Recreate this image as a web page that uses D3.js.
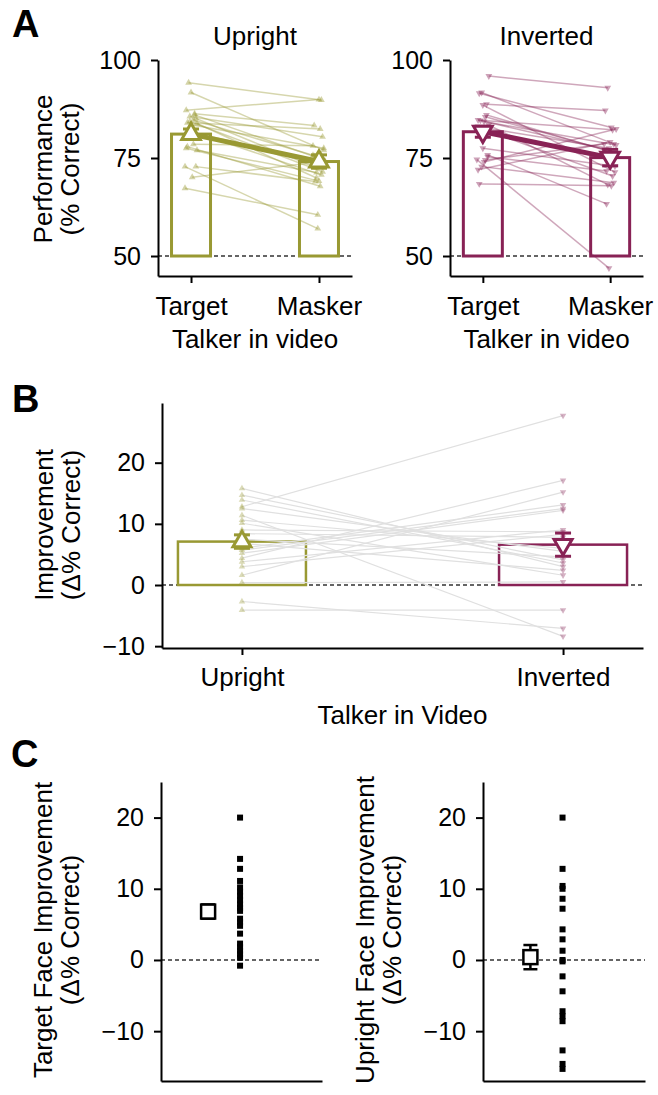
<!DOCTYPE html>
<html><head><meta charset="utf-8">
<script src="https://cdn.jsdelivr.net/npm/d3@7"></script>
<style>
body{margin:0;background:#fff}
svg{display:block}
text{font-family:'Liberation Sans',Arial,Helvetica,sans-serif;fill:#000}
</style>
</head><body>
<svg id="chart" width="658" height="1095"></svg>
<script>
// ---------------- DATA ----------------
const talkerConditions = ["Target", "Masker"];
const faceConditions = ["Upright", "Inverted"];
const ticksA = [50, 75, 100];
const ticksBC = [-10, 0, 10, 20];

// Panel A – Upright (per subject, % correct)
const uprightTarget = [72.8, 91.7, 83.8, 84.3, 85.1, 82.1, 86.0, 77.9, 84.7, 77.5, 81.5, 67.3, 83.5, 77.0, 85.6, 72.8, 94.2, 86.3, 84.0, 78.5, 87.2, 70.1];
const uprightMasker = [57.0, 77.0, 69.9, 71.5, 72.6, 70.7, 75.4, 67.8, 75.7, 69.1, 74.0, 60.5, 77.5, 71.3, 80.4, 69.0, 89.8, 83.3, 82.4, 78.1, 89.9, 74.2];
const uprightMeans = [81.1, 74.1];
const uprightSEM = [1.3, 1.7];

// Panel A – Inverted
const invertedTarget = [74.6, 88.5, 83.4, 91.7, 75.8, 82.6, 86.0, 91.5, 85.5, 84.7, 84.3, 83.0, 77.5, 95.9, 72.8, 75.3, 84.6, 88.7, 68.4, 74.5, 72.0, 74.0];
const invertedMasker = [46.9, 71.4, 68.2, 78.6, 63.3, 70.4, 77.0, 82.8, 77.2, 76.9, 78.3, 77.5, 72.9, 92.9, 68.7, 71.7, 82.2, 87.1, 67.9, 78.6, 79.1, 82.4];
const invertedMeans = [81.7, 75.1];
const invertedSEM = [1.4, 2.1];

// Panel B – improvement (Δ% correct), paired per subject
const improvementUpright = [12.8, 11.4, 15.8, 14.7, 13.9, 10.1, 12.5, 10.6, 9.0, 8.4, 7.5, 6.8, 6.0, 5.7, 5.2, 4.4, 3.8, 3.0, 1.6, 0.4, -2.7, -4.1];
const improvementInverted = [27.7, -8.4, 3.0, 4.1, 3.6, 1.6, 5.5, 6.0, 8.7, 7.8, 4.6, 2.4, 13.1, 12.5, 12.2, 17.1, 9.0, 8.3, 15.2, 0.5, -7.1, -4.1];
const improvementMeans = [7.1, 6.6];
const improvementSEM = [1.1, 1.9];

// Panel C
const targetFaceImprovement = [20.0, 14.2, 12.8, 11.1, 10.2, 9.6, 9.0, 8.4, 7.8, 7.3, 6.9, 5.8, 5.3, 4.8, 3.7, 2.3, 1.8, 1.3, 0.8, 0.3, -0.8];
const targetFaceMean = 6.8, targetFaceSEM = 1.0;
const uprightFaceImprovement = [20.0, 12.8, 10.4, 10.0, 8.6, 7.2, 4.3, 2.9, 1.3, 0.0, -0.2, -2.3, -4.4, -7.2, -7.9, -8.6, -12.7, -14.6, -15.3];
const uprightFaceMean = 0.4, uprightFaceSEM = 1.7;

// ---------------- STYLE ----------------
const OLIVE = "#999933", WINE = "#882255";
const svg = d3.select("#chart");
const TICK_FS = 25, LABEL_FS = 26;

function styleAxis(g) {
  g.select(".domain").attr("stroke", "#000").attr("stroke-width", 2);
  g.selectAll(".tick line").attr("stroke", "#000").attr("stroke-width", 2);
  g.selectAll(".tick text").attr("font-size", TICK_FS).attr("fill", "#000")
    .attr("font-family", "'Liberation Sans',Arial,sans-serif");
}
function yAxis(scale, x, ticks) {
  const g = svg.append("g").attr("transform", `translate(${x},0)`)
    .call(d3.axisLeft(scale).tickValues(ticks).tickSize(7).tickSizeOuter(0).tickPadding(10).tickFormat(d3.format("d")));
  styleAxis(g);
  return g;
}
function xAxis(scale, y, pad, noTicks) {
  const ax = d3.axisBottom(scale).tickSize(7).tickSizeOuter(0).tickPadding(pad);
  if (noTicks) ax.tickValues([]);
  const g = svg.append("g").attr("transform", `translate(0,${y})`).call(ax);
  styleAxis(g);
  g.selectAll(".tick text").attr("font-size", LABEL_FS);
  return g;
}
function yLabel(lines, x1, x2, yc) {
  [x1, x2].forEach((x, i) => {
    svg.append("text").attr("transform", `translate(${x},${yc}) rotate(-90)`)
      .attr("text-anchor", "middle").attr("font-size", LABEL_FS).text(lines[i]);
  });
}
function text(str, x, y, size, anchor, weight) {
  svg.append("text").attr("x", x).attr("y", y).attr("font-size", size)
    .attr("text-anchor", anchor || "middle").attr("font-weight", weight || "normal").text(str);
}
const jitter = i => ((i * 5) % 11 - 5) * 1.2;

// ---------------- PANEL A ----------------
function panelA(opts) {
  const {x0, x1, title, target, masker, means, sem, color, down} = opts;
  const yTop = 60, yBot = 276;
  const y = d3.scaleLinear().domain([44.9, 100]).range([yBot, yTop]);
  const x = d3.scalePoint().domain(talkerConditions).range([x0, x1]).padding(0.258);
  const bw = 39;
  const rot = down ? " rotate(180)" : "";

  svg.append("line").attr("x1", x0).attr("x2", x1).attr("y1", y(50)).attr("y2", y(50))
    .attr("stroke", "#333").attr("stroke-width", 1.3).attr("stroke-dasharray", "4,3");
  svg.selectAll(null).data(means).join("rect")
    .attr("x", (d, i) => x(talkerConditions[i]) - bw / 2).attr("width", bw)
    .attr("y", d => y(d)).attr("height", d => y(50) - y(d))
    .attr("fill", "none").attr("stroke", color).attr("stroke-width", 3);
  const subj = target.map((t, i) => ({t, m: masker[i], i}));
  svg.selectAll(null).data(subj).join("line")
    .attr("x1", d => x("Target") + jitter(d.i)).attr("x2", d => x("Masker") + jitter(d.i + 3))
    .attr("y1", d => y(d.t)).attr("y2", d => y(d.m))
    .attr("stroke", color).attr("stroke-opacity", 0.4).attr("stroke-width", 1.5);
  ["t", "m"].forEach((k, j) => {
    svg.selectAll(null).data(subj).join("path")
      .attr("d", d3.symbol(d3.symbolTriangle, 20)())
      .attr("transform", d => `translate(${x(talkerConditions[j]) + jitter(d.i + 3 * j)},${y(d[k])})${rot}`)
      .attr("fill", color).attr("fill-opacity", 0.42);
  });
  svg.append("line").attr("x1", x("Target")).attr("x2", x("Masker"))
    .attr("y1", y(means[0])).attr("y2", y(means[1]))
    .attr("stroke", color).attr("stroke-width", 5);
  means.forEach((m, i) => {
    const cx = x(talkerConditions[i]);
    const g = svg.append("g");
    g.append("line").attr("x1", cx).attr("x2", cx).attr("y1", y(m - sem[i])).attr("y2", y(m + sem[i]))
      .attr("stroke", color).attr("stroke-width", 3);
    [m - sem[i], m + sem[i]].forEach(v => g.append("line").attr("x1", cx - 8).attr("x2", cx + 8)
      .attr("y1", y(v)).attr("y2", y(v)).attr("stroke", color).attr("stroke-width", 3));
  });
  svg.selectAll(null).data(means).join("path")
    .attr("d", d3.symbol(d3.symbolTriangle, 150)())
    .attr("transform", (d, i) => `translate(${x(talkerConditions[i])},${y(d)})${rot}`)
    .attr("fill", "#fff").attr("stroke", color).attr("stroke-width", 3);

  yAxis(y, x0, ticksA);
  xAxis(x, yBot, 14);
  text(title, (x0 + x1) / 2, 45, LABEL_FS);
  text("Talker in video", (x0 + x1) / 2, 348, LABEL_FS);
}

panelA({x0: 158, x1: 352, title: "Upright", target: uprightTarget, masker: uprightMasker,
  means: uprightMeans, sem: uprightSEM, color: OLIVE, down: false});
panelA({x0: 450, x1: 643, title: "Inverted", target: invertedTarget, masker: invertedMasker,
  means: invertedMeans, sem: invertedSEM, color: WINE, down: true});
yLabel(["Performance", "(% Correct)"], 52, 79, 169);
text("A", 12, 37, 38, "start", "bold");

// ---------------- PANEL B ----------------
(function () {
  const x0 = 162, x1 = 643, yTop = 403, yBot = 648;
  const y = d3.scaleLinear().domain([-10.3, 29.76]).range([yBot, yTop]);
  const x = d3.scalePoint().domain(faceConditions).range([x0, x1]).padding(0.249);
  const bw = 128;
  const colors = [OLIVE, WINE];
  svg.append("line").attr("x1", x0).attr("x2", x1).attr("y1", y(0)).attr("y2", y(0))
    .attr("stroke", "#333").attr("stroke-width", 1.3).attr("stroke-dasharray", "4,3");
  svg.selectAll(null).data(improvementMeans).join("rect")
    .attr("x", (d, i) => x(faceConditions[i]) - bw / 2).attr("width", bw)
    .attr("y", d => y(d)).attr("height", d => y(0) - y(d))
    .attr("fill", "none").attr("stroke", (d, i) => colors[i]).attr("stroke-width", 2.5);
  const subj = improvementUpright.map((u, i) => ({u, v: improvementInverted[i]}));
  svg.selectAll(null).data(subj).join("line")
    .attr("x1", x("Upright")).attr("x2", x("Inverted"))
    .attr("y1", d => y(d.u)).attr("y2", d => y(d.v))
    .attr("stroke", "#e0e0e0").attr("stroke-width", 1.2);
  svg.selectAll(null).data(improvementUpright).join("path")
    .attr("d", d3.symbol(d3.symbolTriangle, 18)())
    .attr("transform", d => `translate(${x("Upright")},${y(d)})`)
    .attr("fill", OLIVE).attr("fill-opacity", 0.35);
  svg.selectAll(null).data(improvementInverted).join("path")
    .attr("d", d3.symbol(d3.symbolTriangle, 18)())
    .attr("transform", d => `translate(${x("Inverted")},${y(d)}) rotate(180)`)
    .attr("fill", WINE).attr("fill-opacity", 0.35);
  improvementMeans.forEach((m, i) => {
    const cx = x(faceConditions[i]), c = colors[i];
    const g = svg.append("g");
    g.append("line").attr("x1", cx).attr("x2", cx).attr("y1", y(m - improvementSEM[i])).attr("y2", y(m + improvementSEM[i]))
      .attr("stroke", c).attr("stroke-width", 3);
    [m - improvementSEM[i], m + improvementSEM[i]].forEach(v => g.append("line").attr("x1", cx - 8).attr("x2", cx + 8)
      .attr("y1", y(v)).attr("y2", y(v)).attr("stroke", c).attr("stroke-width", 3));
    g.append("path").attr("d", d3.symbol(d3.symbolTriangle, 140)())
      .attr("transform", `translate(${cx},${y(m)})${i ? " rotate(180)" : ""}`)
      .attr("fill", "#fff").attr("stroke", c).attr("stroke-width", 3);
  });
  yAxis(y, x0, ticksBC);
  xAxis(x, yBot, 13);
  text("Talker in Video", (x0 + x1) / 2, 724, LABEL_FS);
  yLabel(["Improvement", "(Δ% Correct)"], 53, 80, 525);
  text("B", 12, 412, 38, "start", "bold");
})();

// ---------------- PANEL C ----------------
function panelC(opts) {
  const {x0, x1, values, mean, sem, lines, lx1, lx2} = opts;
  const yTop = 782, yBot = 1081;
  const y = d3.scaleLinear().domain([-17, 25]).range([yBot, yTop]);
  const x = d3.scalePoint().domain(["mean", "subjects"]).range([x0, x1]).padding(2.02).align(0.365);
  svg.append("line").attr("x1", x0).attr("x2", x1).attr("y1", y(0)).attr("y2", y(0))
    .attr("stroke", "#333").attr("stroke-width", 1.3).attr("stroke-dasharray", "4,3");
  svg.selectAll(null).data(values).join("rect")
    .attr("x", x("subjects") - 3).attr("width", 6)
    .attr("y", d => y(d) - 3).attr("height", 6).attr("fill", "#000");
  const cx = x("mean");
  svg.append("line").attr("x1", cx).attr("x2", cx).attr("y1", y(mean - sem)).attr("y2", y(mean + sem))
    .attr("stroke", "#000").attr("stroke-width", 2.5);
  [mean - sem, mean + sem].forEach(v => svg.append("line").attr("x1", cx - 7).attr("x2", cx + 7)
    .attr("y1", y(v)).attr("y2", y(v)).attr("stroke", "#000").attr("stroke-width", 2.5));
  svg.append("rect").attr("x", cx - 7).attr("y", y(mean) - 7).attr("width", 14).attr("height", 14)
    .attr("fill", "#fff").attr("stroke", "#000").attr("stroke-width", 2.5);
  yAxis(y, x0, ticksBC);
  xAxis(x, yBot, 13, true);
  yLabel(lines, lx1, lx2, 930);
}
panelC({x0: 161, x1: 322, values: targetFaceImprovement, mean: targetFaceMean, sem: targetFaceSEM,
  lines: ["Target Face Improvement", "(Δ% Correct)"], lx1: 52, lx2: 79});
panelC({x0: 483, x1: 645, values: uprightFaceImprovement, mean: uprightFaceMean, sem: uprightFaceSEM,
  lines: ["Upright Face Improvement", "(Δ% Correct)"], lx1: 374, lx2: 401});
text("C", 11, 767, 38, "start", "bold");
</script>
</body></html>
